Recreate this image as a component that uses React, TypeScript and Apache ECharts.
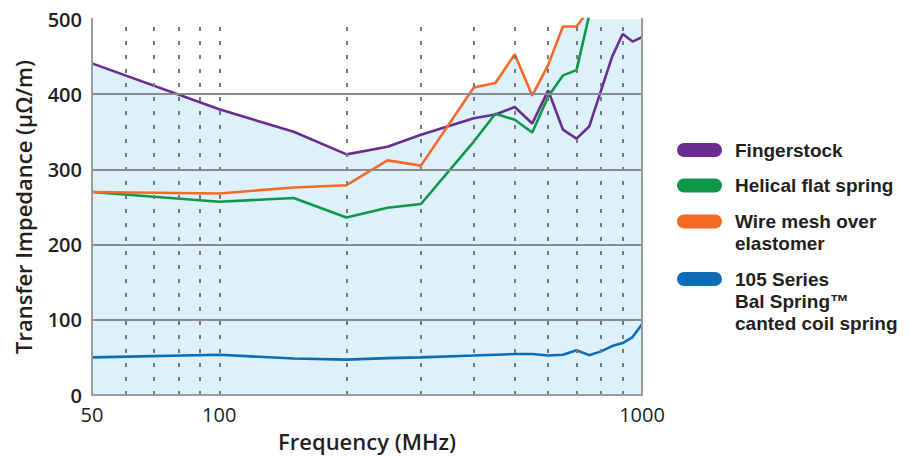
import React, { useEffect, useRef } from "react";
import * as echarts from "echarts";

// ---- data ----
const fingerFreq = [50, 100, 150, 200, 250, 300, 400, 450, 500, 550, 600, 650, 700, 750, 850, 900, 950, 1000];
const fingerVal = [441, 380, 350, 320, 330, 346, 368, 373, 383, 361, 405, 353, 341, 357, 450, 480, 470, 476];

const helicalFreq = [50, 100, 150, 200, 250, 300, 400, 450, 500, 550, 600, 650, 700, 750, 800, 1000];
const helicalVal = [270, 257, 262, 236, 249, 254, 337, 374, 366, 349, 397, 425, 432, 505, 600, 800];

const meshFreq = [50, 100, 150, 200, 250, 300, 400, 450, 500, 550, 600, 650, 700, 750, 800, 1000];
const meshVal = [270, 268, 276, 279, 312, 305, 409, 415, 453, 398, 439, 490, 490, 512, 600, 800];

const balFreq = [50, 100, 150, 200, 250, 300, 400, 500, 550, 600, 650, 700, 750, 800, 850, 900, 950, 1000];
const balVal = [50, 53.5, 48.5, 47, 49, 50, 52.5, 54.5, 54.5, 52.5, 53.5, 59.5, 53, 58, 65, 69, 77, 94];

const seriesNames = [
  "Fingerstock",
  "Helical flat spring",
  "Wire mesh over\nelastomer",
  "105 Series\nBal Spring™\ncanted coil spring",
];
const seriesFreqs = [fingerFreq, helicalFreq, meshFreq, balFreq];
const seriesVals = [fingerVal, helicalVal, meshVal, balVal];

const xMin = 50;
const xMax = 1000;
const yMin = 0;
const yMax = 500;
const yInterval = 100;
const minorFreqs = [60, 70, 80, 90, 100, 200, 300, 400, 500, 600, 700, 800, 900];
const hGridValues = [100, 200, 300, 400];

// ---- styles ----
const colors = ["#6a2c91", "#0f9748", "#f26a25", "#0b6db5"];
const fillColor = "#dcf1fb";
const gridGray = "#8a8a8a";
const textColor = "#231f20";
const fontFamily = "'Open Sans', Roboto, sans-serif";
const legendFont = "'Liberation Sans', Arial, sans-serif";
const legendCenters = [150, 185.5, 221.5, 279];
const legendLineH = 22;
const legendBoxW = 53;

// pill of 45x14 at the top-left of a legendBoxW x h box (trailing move-to sets the box)
function pillIcon(h: number) {
  return `path://M7,0 L38,0 A7,7 0 0 1 38,14 L7,14 A7,7 0 0 1 7,0 Z M${legendBoxW},${h}`;
}

export default function App() {
  const ref = useRef<HTMLDivElement>(null);

  useEffect(() => {
    if (!ref.current) return;
    const chart = echarts.init(ref.current, undefined, { renderer: "svg" });

    const pairs = seriesFreqs.map((fs, i) => fs.map((f, j) => [f, seriesVals[i][j]]));

    const areaSeries = pairs.map((d, i) => ({
      name: "_area" + i,
      type: "line",
      data: d,
      showSymbol: false,
      symbol: "none",
      silent: true,
      z: 1,
      lineStyle: { width: 0, opacity: 0 },
      areaStyle: { color: fillColor, opacity: 1 },
      clip: true,
    }));

    const gridSeries = {
      name: "_grid",
      type: "line",
      data: [[xMin, yMin]],
      showSymbol: false,
      symbol: "none",
      silent: true,
      z: 2,
      lineStyle: { width: 0, opacity: 0 },
      markLine: {
        silent: true,
        symbol: "none",
        label: { show: false },
        animation: false,
        data: [
          ...minorFreqs.map((f) => ({
            xAxis: f,
            lineStyle: { color: "#777777", width: 2, type: [4, 10] },
          })),
          ...hGridValues.map((v) => ({
            yAxis: v,
            lineStyle: { color: gridGray, width: 1.8, type: "solid" },
          })),
        ],
      },
    };

    const lineSeries = pairs.map((d, i) => ({
      name: seriesNames[i],
      type: "line",
      data: d,
      showSymbol: false,
      symbol: "none",
      z: 3,
      color: colors[i],
      lineStyle: { color: colors[i], width: 2.6 },
      clip: true,
    }));

    const legends = seriesNames.map((name, i) => {
      const n = name.split("\n").length;
      const h = 14 + legendLineH * (n - 1);
      return {
        data: [{ name, icon: pillIcon(h) }],
        orient: "vertical",
        left: 677,
        top: legendCenters[i] - legendLineH / 2,
        padding: 0,
        itemWidth: legendBoxW,
        itemHeight: h,
        itemGap: 0,
        itemStyle: { borderWidth: 0 },
        selectedMode: false,
        textStyle: {
          color: textColor,
          fontFamily: legendFont,
          fontSize: 19,
          fontWeight: "bold",
          lineHeight: legendLineH,
        },
      };
    });

    const option: any = {
      animation: false,
      backgroundColor: "#ffffff",
      grid: { left: 92, right: 268, top: 19, bottom: 61.5 },
      legend: legends,
      xAxis: [
        {
          type: "log",
          logBase: 10,
          min: xMin,
          max: xMax,
          z: 5,
          name: "Frequency (MHz)",
          nameLocation: "middle",
          nameGap: 35,
          nameTextStyle: { color: textColor, fontFamily, fontSize: 22, fontWeight: 600 },
          axisLine: { show: true, lineStyle: { color: "#9a9a9a", width: 2 } },
          axisTick: { show: false },
          minorTick: { show: false },
          splitLine: { show: false },
          minorSplitLine: { show: false },
          axisLabel: {
            color: textColor,
            fontFamily,
            fontSize: 20,
            fontWeight: 400,
            margin: 9,
            showMinLabel: true,
            showMaxLabel: true,
            formatter: (v: number) => String(Math.round(v)),
          },
        },
        {
          type: "log",
          logBase: 10,
          min: xMin,
          max: xMax,
          position: "top",
          z: 5,
          axisLine: { show: true, lineStyle: { color: "#9a9a9a", width: 2 } },
          axisTick: { show: false },
          axisLabel: { show: false },
          splitLine: { show: false },
        },
      ],
      yAxis: [
        {
          type: "value",
          min: yMin,
          max: yMax,
          interval: yInterval,
          z: 5,
          name: "Transfer Impedance (μΩ/m)",
          nameLocation: "middle",
          nameGap: 58,
          nameTextStyle: { color: textColor, fontFamily, fontSize: 22, fontWeight: 600 },
          axisLine: { show: true, lineStyle: { color: "#9a9a9a", width: 2 } },
          axisTick: { show: false },
          splitLine: { show: false },
          axisLabel: {
            color: textColor,
            fontFamily,
            fontSize: 20,
            fontWeight: 600,
            margin: 10,
          },
        },
        {
          type: "value",
          min: yMin,
          max: yMax,
          interval: yInterval,
          position: "right",
          z: 5,
          axisLine: { show: true, lineStyle: { color: "#9a9a9a", width: 2 } },
          axisTick: { show: false },
          axisLabel: { show: false },
          splitLine: { show: false },
        },
      ],
      series: [...areaSeries, gridSeries, ...lineSeries],
    };

    chart.setOption(option);
    return () => chart.dispose();
  }, []);

  return <div ref={ref} style={{ width: 910, height: 457, position: "absolute", left: 0, top: 0 }} />;
}
